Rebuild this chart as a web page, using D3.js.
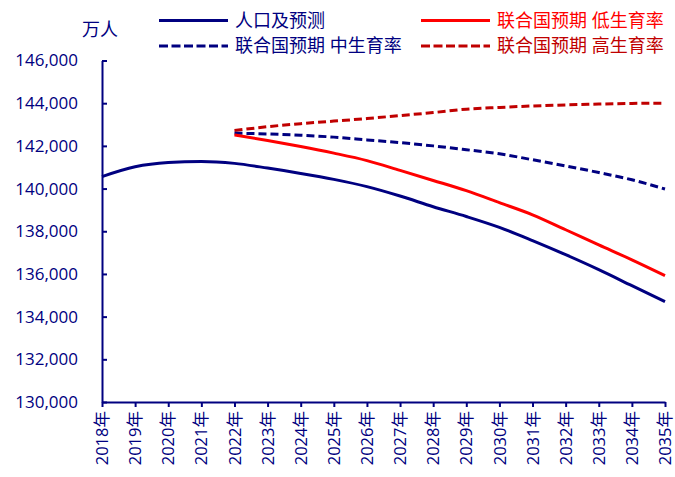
<!DOCTYPE html>
<html>
<head>
<meta charset="utf-8">
<script src="https://cdn.jsdelivr.net/npm/d3@7"></script>
<style>
    body { margin: 0; background: #fff; }
    .chart text { font-family: "Open Sans", "Noto Sans CJK SC", sans-serif; fill: #000080; }
    .axis path, .axis line { stroke: #000080; stroke-width: 2; }
</style>
</head>
<body>
<script>
//chart data
var years = ["2018年", "2019年", "2020年", "2021年", "2022年", "2023年", "2024年", "2025年", "2026年",
    "2027年", "2028年", "2029年", "2030年", "2031年", "2032年", "2033年", "2034年", "2035年"];
var projYears = years.slice(4); // UN projections start in 2022

var population = [140560, 141020, 141220, 141270, 141180, 140960, 140710, 140430, 140090,
    139650, 139150, 138690, 138180, 137560, 136900, 136200, 135450, 134700];
var unLow = [142515, 142250, 141970, 141660, 141310, 140850, 140380, 139900, 139340,
    138770, 138070, 137360, 136660, 135920];
var unMedium = [142595, 142560, 142500, 142410, 142280, 142150, 142000, 141820, 141630,
    141350, 141060, 140750, 140410, 139980];
var unHigh = [142717, 142900, 143040, 143160, 143280, 143420, 143560, 143720, 143800,
    143870, 143920, 143960, 143990, 144000];

var yTicks = [130000, 132000, 134000, 136000, 138000, 140000, 142000, 144000, 146000];
var unitLabel = "万人";

var seriesNames = ["人口及预测", "联合国预期 低生育率", "联合国预期 中生育率", "联合国预期 高生育率"];

window.onload = setChart();

function setChart(){

    var width = 675,
        height = 477;

    var margin = {left: 102, right: 10, top: 60.5, bottom: 75};

    var svg = d3.select("body")
        .append("svg")
        .attr("class", "chart")
        .attr("width", width)
        .attr("height", height);

    var x = d3.scalePoint()
        .domain(years)
        .range([margin.left, width - margin.right]);

    var y = d3.scaleLinear()
        .domain([130000, 146000])
        .range([height - margin.bottom, margin.top]);

    //y axis, ticks point inwards
    var yAxis = d3.axisLeft(y)
        .tickValues(yTicks)
        .tickFormat(d3.format(","))
        .tickSizeInner(-5)
        .tickSizeOuter(0)
        .tickPadding(24);

    svg.append("g")
        .attr("class", "axis")
        .attr("transform", "translate(" + margin.left + ",0)")
        .call(yAxis)
        .selectAll("text")
        .style("font-size", "17px");

    //x axis with rotated year labels
    var xAxis = d3.axisBottom(x)
        .tickSizeInner(5)
        .tickSizeOuter(0);

    svg.append("g")
        .attr("class", "axis")
        .attr("transform", "translate(0," + (height - margin.bottom) + ")")
        .call(xAxis)
        .selectAll("text")
        .attr("transform", "rotate(-90)")
        .attr("x", -9)
        .attr("y", 0)
        .attr("dy", "0.34em")
        .style("text-anchor", "end")
        .style("font-size", "16.5px");

    var line = d3.line()
        .x(function(d){ return x(d.year); })
        .y(function(d){ return y(d.value); })
        .curve(d3.curveMonotoneX);

    function toPoints(labels, values){
        return labels.map(function(l, i){ return {year: l, value: values[i]}; });
    }

    var series = [
        {data: toPoints(years, population), color: "#000080", dash: null},
        {data: toPoints(projYears, unLow), color: "#ff0000", dash: null},
        {data: toPoints(projYears, unMedium), color: "#000080", dash: "8,4"},
        {data: toPoints(projYears, unHigh), color: "#c00000", dash: "8,4"}
    ];

    //draw the high/medium dashes beneath the solid lines
    [3, 2, 1, 0].forEach(function(i){
        svg.append("path")
            .datum(series[i].data)
            .attr("fill", "none")
            .attr("stroke", series[i].color)
            .attr("stroke-width", 3)
            .attr("stroke-dasharray", series[i].dash)
            .attr("d", line);
    });

    //unit label
    svg.append("text")
        .attr("x", 82)
        .attr("y", 30)
        .attr("dy", "0.35em")
        .style("font-size", "18px")
        .text(unitLabel);

    //legend, two columns
    var legendPos = [
        {x: 159, y: 20.5},
        {x: 421, y: 20.5},
        {x: 159, y: 46},
        {x: 421, y: 46}
    ];

    var legend = svg.selectAll(".legend")
        .data(series)
        .enter()
        .append("g")
        .attr("class", "legend")
        .attr("transform", function(d, i){ return "translate(" + legendPos[i].x + "," + legendPos[i].y + ")"; });

    legend.append("line")
        .attr("x1", 0)
        .attr("x2", 69)
        .attr("stroke", function(d){ return d.color; })
        .attr("stroke-width", 3)
        .attr("stroke-dasharray", function(d){ return d.dash ? "9,3.5" : null; });

    legend.append("text")
        .attr("x", 76)
        .attr("dy", "0.35em")
        .style("font-size", "18px")
        .style("fill", function(d){ return d.color; })
        .text(function(d, i){ return seriesNames[i]; });
};
</script>
</body>
</html>
